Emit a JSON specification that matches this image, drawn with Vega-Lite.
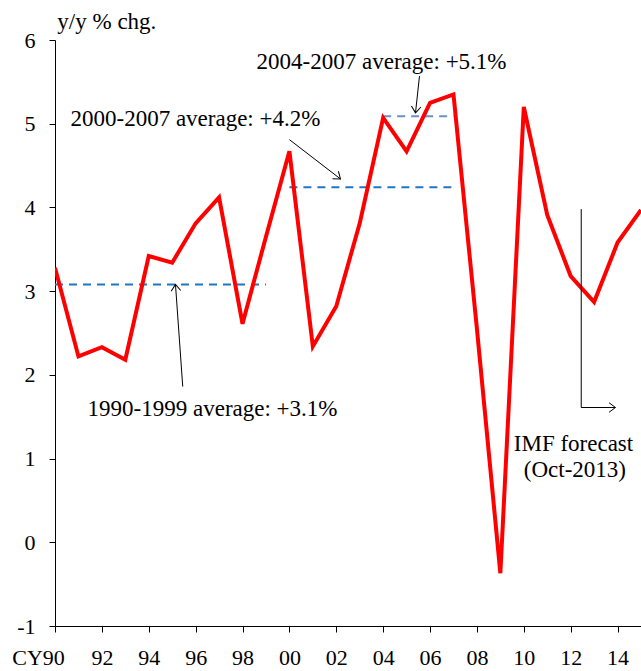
{
  "$schema": "https://vega.github.io/schema/vega-lite/v6.json",
  "autosize": {"type": "none"},
  "width": 586,
  "height": 586,
  "padding": {"left": 55, "top": 40, "right": 0, "bottom": 45},
  "background": "white",
  "config": {
    "view": {"stroke": null},
    "font": "Liberation Serif",
    "text": {"font": "Liberation Serif"},
    "axis": {"labelFont": "Liberation Serif", "labelFontSize": 22, "labelColor": "black", "domainColor": "black", "tickColor": "black", "grid": false, "title": null}
  },
  "datasets": {
    "series": [
      {"year": 1990, "value": 3.28}, {"year": 1991, "value": 2.22}, {"year": 1992, "value": 2.33},
      {"year": 1993, "value": 2.18}, {"year": 1994, "value": 3.42}, {"year": 1995, "value": 3.34},
      {"year": 1996, "value": 3.81}, {"year": 1997, "value": 4.12}, {"year": 1998, "value": 2.61},
      {"year": 1999, "value": 3.65}, {"year": 2000, "value": 4.67}, {"year": 2001, "value": 2.34},
      {"year": 2002, "value": 2.82}, {"year": 2003, "value": 3.81}, {"year": 2004, "value": 5.07},
      {"year": 2005, "value": 4.67}, {"year": 2006, "value": 5.25}, {"year": 2007, "value": 5.35},
      {"year": 2008, "value": 2.55}, {"year": 2009, "value": -0.37}, {"year": 2010, "value": 5.2},
      {"year": 2011, "value": 3.91}, {"year": 2012, "value": 3.18}, {"year": 2013, "value": 2.87},
      {"year": 2014, "value": 3.58}, {"year": 2015, "value": 3.97}
    ],
    "averages": [
      {"period": "1990-1999", "start": 1990, "end": 1999, "avg": 3.08},
      {"period": "2000-2007", "start": 2000, "end": 2007, "avg": 4.24},
      {"period": "2004-2007", "start": 2004, "end": 2007, "avg": 5.09}
    ],
    "arrows": [
      {"id": "a42", "x1": 2000.0, "y1": 4.81, "x2": 2002.18, "y2": 4.34},
      {"id": "a51", "x1": 2005.55, "y1": 5.57, "x2": 2005.38, "y2": 5.13},
      {"id": "a31", "x1": 1995.45, "y1": 1.86, "x2": 1995.14, "y2": 3.08},
      {"id": "imfv", "x1": 2012.45, "y1": 3.98, "x2": 2012.45, "y2": 1.61},
      {"id": "imfh", "x1": 2012.45, "y1": 1.61, "x2": 2013.91, "y2": 1.61}
    ],
    "notes": [
      {"text": "y/y % chg.", "x": 1990.1, "y": 6.22},
      {"text": "2004-2007 average: +5.1%", "x": 1998.6, "y": 5.74},
      {"text": "2000-2007 average: +4.2%", "x": 1990.66, "y": 5.06},
      {"text": "1990-1999 average: +3.1%", "x": 1991.39, "y": 1.59}
    ],
    "imf": [
      {"text": "IMF forecast", "x": 2012.12, "y": 1.18},
      {"text": "(Oct-2013)", "x": 2012.18, "y": 0.86}
    ]
  },
  "layer": [
    {
      "mark": {"type": "rule", "color": "#888888", "strokeWidth": 1.5},
      "encoding": {"y": {"datum": 6, "type": "quantitative", "scale": {"domain": [-1, 6], "nice": false}}}
    },
    {
      "mark": {"type": "rule", "color": "#333333", "strokeWidth": 1},
      "encoding": {"y": {"datum": 0, "type": "quantitative"}}
    },
    {
      "data": {"name": "averages"},
      "mark": {"type": "rule", "strokeWidth": 2, "strokeDash": [8, 6]},
      "encoding": {
        "x": {"field": "start", "type": "quantitative"},
        "x2": {"field": "end"},
        "y": {"field": "avg", "type": "quantitative"},
        "color": {"field": "period", "type": "nominal", "legend": null,
          "scale": {"domain": ["1990-1999", "2000-2007", "2004-2007"], "range": ["#1F77C4", "#1F77C4", "#6C8FC4"]}}
      }
    },
    {
      "data": {"name": "series"},
      "mark": {"type": "line", "color": "#FF0000", "strokeWidth": 4, "clip": true, "strokeJoin": "miter"},
      "encoding": {
        "x": {"field": "year", "type": "quantitative",
          "scale": {"domain": [1990, 2015], "nice": false, "zero": false},
          "axis": {"values": [1990, 1992, 1994, 1996, 1998, 2000, 2002, 2004, 2006, 2008, 2010, 2012, 2014],
            "labelExpr": "datum.value == 1990 ? 'CY90' : substring(toString(datum.value), 2, 4)",
            "labelOffset": {"condition": {"test": "datum.value == 1990", "value": -17}, "value": 0},
            "labelFont": "Liberation Serif", "labelFontSize": 22,
            "labelFlush": false, "labelOverlap": false, "labelBound": false,
            "tickSize": 6, "labelPadding": 15}},
        "y": {"field": "value", "type": "quantitative",
          "scale": {"domain": [-1, 6], "nice": false, "zero": false},
          "axis": {"values": [-1, 0, 1, 2, 3, 4, 5, 6], "labelExpr": "toString(datum.value)", "labelFont": "Liberation Serif", "labelFontSize": 22,
            "tickSize": 6, "labelPadding": 14, "labelFlush": false, "labelOverlap": false, "labelBound": false}}
      }
    },
    {
      "data": {"name": "arrows"},
      "mark": {"type": "rule", "color": "black", "strokeWidth": 1},
      "encoding": {
        "x": {"field": "x1", "type": "quantitative"},
        "x2": {"field": "x2"},
        "y": {"field": "y1", "type": "quantitative"},
        "y2": {"field": "y2"}
      }
    },
    {
      "data": {"name": "arrows"},
      "transform": [{"filter": "datum.id == 'a42'"}],
      "mark": {"type": "point", "shape": "M-0.6,0.8L0,0L0.6,0.8", "filled": false, "stroke": "black", "strokeWidth": 1, "size": 256, "angle": 127.8, "opacity": 1},
      "encoding": {"x": {"field": "x2", "type": "quantitative"}, "y": {"field": "y2", "type": "quantitative"}}
    },
    {
      "data": {"name": "arrows"},
      "transform": [{"filter": "datum.id == 'a51'"}],
      "mark": {"type": "point", "shape": "M-0.6,0.8L0,0L0.6,0.8", "filled": false, "stroke": "black", "strokeWidth": 1, "size": 256, "angle": 186.2, "opacity": 1},
      "encoding": {"x": {"field": "x2", "type": "quantitative"}, "y": {"field": "y2", "type": "quantitative"}}
    },
    {
      "data": {"name": "arrows"},
      "transform": [{"filter": "datum.id == 'a31'"}],
      "mark": {"type": "point", "shape": "M-0.6,0.8L0,0L0.6,0.8", "filled": false, "stroke": "black", "strokeWidth": 1, "size": 256, "angle": 355.9, "opacity": 1},
      "encoding": {"x": {"field": "x2", "type": "quantitative"}, "y": {"field": "y2", "type": "quantitative"}}
    },
    {
      "data": {"name": "arrows"},
      "transform": [{"filter": "datum.id == 'imfh'"}],
      "mark": {"type": "point", "shape": "M-0.6,0.8L0,0L0.6,0.8", "filled": false, "stroke": "black", "strokeWidth": 1, "size": 256, "angle": 90, "opacity": 1},
      "encoding": {"x": {"field": "x2", "type": "quantitative"}, "y": {"field": "y2", "type": "quantitative"}}
    },
    {
      "data": {"name": "notes"},
      "mark": {"type": "text", "align": "left", "baseline": "middle", "font": "Liberation Serif", "fontSize": 23, "color": "black"},
      "encoding": {"x": {"field": "x", "type": "quantitative"}, "y": {"field": "y", "type": "quantitative"}, "text": {"field": "text"}}
    },
    {
      "data": {"name": "imf"},
      "mark": {"type": "text", "align": "center", "baseline": "middle", "font": "Liberation Serif", "fontSize": 23, "color": "black"},
      "encoding": {"x": {"field": "x", "type": "quantitative"}, "y": {"field": "y", "type": "quantitative"}, "text": {"field": "text"}}
    }
  ]
}
